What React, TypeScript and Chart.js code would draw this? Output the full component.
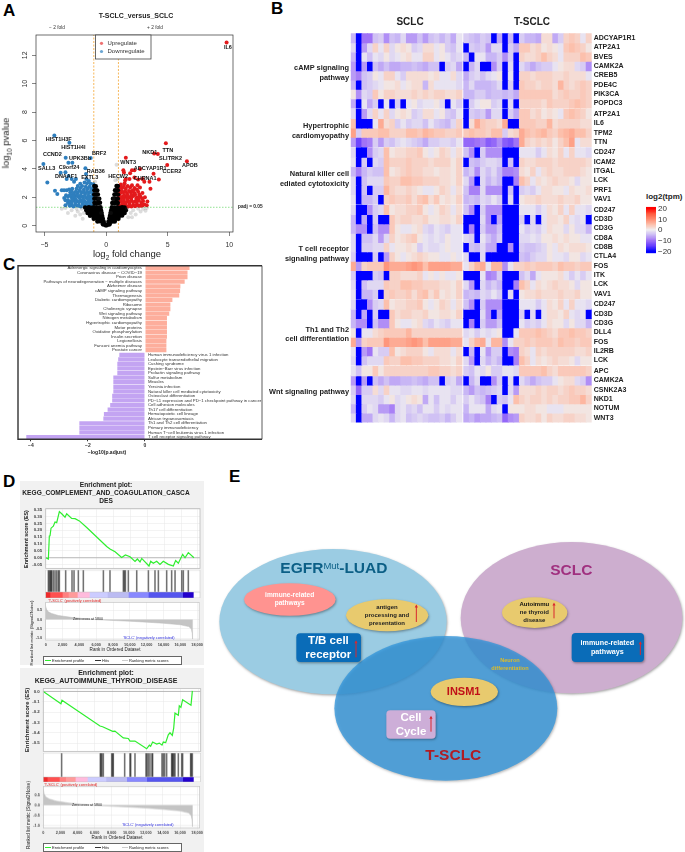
import React, { useEffect, useRef } from 'react';
import { Chart, registerables } from 'chart.js';
Chart.register(...registerables);
Chart.defaults.font.family = "'Liberation Sans', Arial, sans-serif";
Chart.defaults.color = '#333';

/* ---------- Panel A data ---------- */
const volcanoXTicks = [-5, 0, 5, 10];
const volcanoYTicks = [0, 2, 4, 6, 8, 10, 12];
const volcanoGrey = [[-3.6,1.2],[-3.1,0.9],[-2.8,1.1],[-2.5,0.7],[-2.3,1.0],[-2.1,0.8],[-2.0,1.2],[-1.9,0.5],[-1.8,0.9],[-2.4,1.2],[-3.3,1.25],[1.8,0.6],[2.0,0.9],[2.2,1.1],[2.4,0.8],[2.6,1.2],[2.8,1.0],[3.0,1.2],[3.2,1.05],[3.3,1.25],[2.1,0.6],[1.7,1.2],[0.95,3.3],[0.85,4.3],[0.75,3.2],[-0.9,3.1],[-0.6,1.9],[0.6,1.9],[0.4,0.9],[-0.4,0.9]];
const volcanoBlack = [[-0.25,0.1],[-0.15,0.12],[-0.05,0.03],[0.05,0.03],[0.15,0.1],[0.28,0.1],[-0.7,0.3],[-0.5,0.32],[-0.32,0.28],[-0.2,0.3],[-1.0,0.5],[-0.8,0.52],[-0.6,0.48],[-0.42,0.5],[-0.27,0.5],[-1.3,0.7],[-1.1,0.72],[-0.9,0.68],[-0.7,0.7],[-0.5,0.72],[-0.32,0.68],[-1.5,0.9],[-1.3,0.92],[-1.1,0.88],[-0.9,0.9],[-0.7,0.93],[-0.52,0.9],[-0.36,0.9],[-1.6,1.1],[-1.4,1.12],[-1.2,1.08],[-1.0,1.1],[-0.8,1.13],[-0.6,1.08],[-0.42,1.1],[-1.7,1.28],[-1.4,1.3],[-1.2,1.27],[-1.0,1.3],[-0.8,1.3],[-0.62,1.28],[-0.46,1.3],[-0.95,1.6],[-0.8,1.58],[-0.65,1.6],[-0.5,1.62],[-0.95,1.9],[-0.8,1.92],[-0.66,1.88],[-0.56,1.9],[-0.96,2.2],[-0.82,2.2],[-0.67,2.2],[-0.95,2.5],[-0.82,2.5],[-0.72,2.48],[-0.95,2.8],[-0.84,2.78],[0.7,0.3],[0.5,0.3],[0.33,0.27],[0.2,0.3],[1.0,0.5],[0.8,0.5],[0.6,0.48],[0.42,0.5],[0.27,0.52],[1.3,0.72],[1.1,0.7],[0.9,0.68],[0.7,0.72],[0.5,0.7],[0.32,0.7],[1.5,0.9],[1.3,0.9],[1.1,0.92],[0.9,0.88],[0.7,0.9],[0.52,0.92],[0.36,0.9],[1.6,1.1],[1.4,1.08],[1.2,1.12],[1.0,1.1],[0.8,1.08],[0.6,1.12],[0.42,1.1],[1.5,1.28],[1.3,1.3],[1.1,1.27],[0.9,1.3],[0.7,1.28],[0.47,1.3],[0.95,1.6],[0.8,1.62],[0.65,1.58],[0.5,1.6],[0.95,1.9],[0.8,1.88],[0.66,1.92],[0.56,1.9],[0.96,2.2],[0.82,2.22],[0.68,2.2],[0.95,2.5],[0.83,2.48],[0.73,2.5],[0.95,2.8],[0.85,2.8]];
const volcanoDown = [[-1.05,1.4],[-1.3,1.5],[-1.6,1.4],[-1.9,1.55],[-2.2,1.4],[-2.5,1.5],[-2.8,1.45],[-3.1,1.6],[-1.15,1.7],[-1.45,1.75],[-1.75,1.7],[-2.05,1.8],[-2.35,1.75],[-2.65,1.8],[-2.95,1.7],[-3.3,1.8],[-1.05,1.95],[-1.3,2.0],[-1.6,1.95],[-1.9,2.05],[-2.2,2.0],[-2.5,2.1],[-2.8,2.0],[-3.1,2.05],[-3.4,1.95],[-1.1,2.25],[-1.4,2.3],[-1.7,2.25],[-2.0,2.35],[-2.3,2.3],[-2.6,2.3],[-2.9,2.35],[-3.2,2.5],[-1.2,2.55],[-1.5,2.6],[-1.8,2.55],[-2.1,2.65],[-2.4,2.6],[-2.75,2.6],[-3.0,2.55],[-1.03,2.93],[-1.55,3.0],[-1.75,3.05],[-2.1,2.95],[-2.6,3.1],[-3.2,3.29],[-2.79,3.29],[-3.05,3.5],[-4.77,3.05],[-4.15,2.46],[-3.96,2.23],[-3.6,2.5],[-3.41,2.5],[-5.09,4.34],[-4.2,6.36],[-2.98,5.85],[-3.28,4.79],[-3.06,4.44],[-2.74,4.44],[-3.69,3.73],[-3.3,3.76],[-1.68,4.04],[-1.25,4.77],[-1.63,3.64],[-1.6,3.3],[-2.45,3.3],[-1.4,3.15],[-2.2,1.65],[-1.25,1.85],[-2.7,2.2],[-1.55,1.6],[-3.3,1.45],[-2.9,1.55],[-1.2,1.35],[-1.45,1.38],[-1.75,1.45],[-2.05,1.35],[-2.35,1.42],[-2.65,1.35],[-2.95,1.4],[-1.3,1.65],[-1.6,1.62],[-1.9,1.7],[-2.5,1.68],[-2.8,1.62],[-3.1,1.8],[-1.15,2.1],[-1.45,2.12],[-1.75,2.1],[-2.05,2.15],[-2.35,2.15],[-2.65,2.05],[-2.95,2.15],[-3.25,2.15],[-1.25,2.4],[-1.55,2.42],[-1.85,2.38],[-2.15,2.48],[-2.45,2.42],[-2.8,2.45],[-1.05,2.7],[-1.35,2.75],[-1.65,2.75],[-1.95,2.8],[-2.3,2.8],[-1.25,2.95],[-1.85,1.85],[-2.5,1.9],[-2.15,1.95],[-1.45,1.9],[-2.75,1.85]];
const volcanoUp = [[1.05,1.4],[1.3,1.5],[1.6,1.4],[1.9,1.5],[2.2,1.45],[2.5,1.5],[2.8,1.4],[3.1,1.5],[1.15,1.7],[1.45,1.75],[1.75,1.7],[2.05,1.8],[2.35,1.7],[2.65,1.8],[3.0,1.75],[3.35,1.7],[1.05,2.0],[1.3,2.0],[1.6,2.05],[1.9,2.0],[2.2,2.1],[2.5,2.0],[2.8,2.05],[3.15,2.0],[1.15,2.3],[1.4,2.35],[1.7,2.25],[2.0,2.35],[2.3,2.3],[2.6,2.4],[2.95,2.3],[1.05,2.6],[1.3,2.65],[1.6,2.6],[1.95,2.7],[2.3,2.65],[2.75,2.7],[3.6,2.6],[1.5,3.0],[1.6,3.3],[1.45,3.75],[1.4,3.9],[1.95,3.7],[2.1,3.9],[2.3,3.9],[2.75,4.0],[1.55,3.2],[1.9,3.3],[2.3,3.4],[2.6,3.25],[2.95,3.3],[3.1,3.1],[3.52,3.1],[3.85,3.66],[4.28,3.26],[9.78,12.9],[4.85,5.8],[6.56,4.55],[4.96,4.27],[3.9,5.09],[4.2,5.05],[1.6,4.79],[1.2,2.9],[2.1,2.45],[1.45,1.55],[2.45,1.9],[3.3,1.45],[1.8,1.35],[1.15,1.35],[1.45,1.38],[2.05,1.36],[2.35,1.38],[2.65,1.4],[2.95,1.42],[1.3,1.65],[1.6,1.62],[1.9,1.68],[2.2,1.65],[2.5,1.68],[2.85,1.62],[1.2,1.85],[1.45,1.9],[1.75,1.88],[2.05,1.95],[2.65,1.95],[2.95,1.9],[1.1,2.15],[1.45,2.15],[1.75,2.12],[2.05,2.18],[2.35,2.2],[2.7,2.2],[1.25,2.45],[1.55,2.42],[1.85,2.45],[2.2,2.5],[2.5,2.55],[1.15,2.75],[1.45,2.8],[1.75,2.8],[2.1,2.85],[2.55,2.85]];
const volcanoNames = ['IL6','HIST1H3F','HIST1H4I','CCND2','UPK3Bb','BRF2','SALL3','C9orf24','RAB36','DNAAF1','EXTL3','HECW2','NKD1','TTN','SLITRK2','APOB','WNT3','ADCYAP1R1','CCER2','CHRNA1'];
const volcanoNameX = [9.89,-3.85,-2.66,-4.36,-2.11,-0.57,-4.82,-3.01,-0.84,-3.25,-1.33,0.98,3.55,5.01,5.23,6.8,1.79,3.58,5.34,3.17];
const volcanoNameY = [12.58,6.06,5.49,5.0,4.77,5.07,4.04,4.13,3.85,3.47,3.38,3.5,5.14,5.31,4.72,4.23,4.46,4.06,3.83,3.36];

/* ---------- Panel B data ---------- */
const ADCYAP1R1 = [-5,-20,-10,-10,-4,-3,-8,-4,-5,-2,-7,-7,-4,-7,-4,-3,-5,-3,-6,-1, -3,-4,-5,-3,-4,-20,-6,-20,-5,-20,-3,-5,-5,-6,2,2,-6,-3,3,4,3,-1,3];
const ATP2A1 = [-2,-20,-7,-2,3,-1,3,-2,1,2,1,-3,-2,2,2,-1,1,-3,-4,-1, -20,-3,-4,-3,-7,-2,-2,-20,-3,-6,4,4,2,3,1,2,1,-1,4,5,4,3,1];
const BVES = [-5,-20,-1,-4,-1,-2,1,-2,-1,1,2,-1,-1,3,3,-1,1,-1,-3,-2, -5,-20,-1,-1,-5,-5,-3,-8,-3,-20,3,2,2,3,5,3,2,-1,3,3,3,5,4];
const CAMK2A = [-7,-20,-7,-20,-4,-6,-4,-6,-6,-5,-5,-4,-5,-6,-4,-4,-20,-3,-2,-6, -20,-5,-2,-20,-20,-8,-3,-20,-2,-20,-2,-4,-6,-4,-3,-3,-1,1,2,2,-2,-3,-8];
const CREB5 = [-7,-9,-4,-3,1,-1,3,3,-1,-3,2,2,2,2,1,2,-1,-1,2,-2, -6,-3,-2,-4,-2,-1,1,-20,-1,-20,3,3,2,3,3,3,2,2,3,2,2,2,-1];
const PDE4C = [-5,-20,-4,-3,-2,-1,1,1,2,-1,1,2,2,-5,2,-1,-1,-1,-1,-2, -5,-2,-5,-5,-5,-4,-2,-20,-3,-20,4,3,3,2,3,3,2,6,3,2,3,4,3];
const PIK3CA = [1,-8,-2,-3,4,1,3,3,2,2,2,3,2,3,2,3,3,2,2,3, -5,-5,-3,-3,-5,-4,-4,-5,-4,-6,4,4,4,4,4,4,2,3,4,3,3,4,3];
const POPDC3 = [-6,-20,-1,-6,-3,-20,-1,-20,-3,-20,-1,1,-2,-1,-1,1,-2,-20,-1,-3, -20,-3,-1,1,1,-3,-2,-20,-2,-20,3,3,3,3,2,4,3,3,3,4,5,4,3];
const IL6 = [5,-20,-20,-20,-1,7,2,3,-3,-1,-3,-2,-2,-4,-1,-3,-4,-5,-2,3, -20,2,7,4,3,3,2,7,-20,-20,4,4,4,3,3,6,2,3,3,3,3,2,2];
const TPM2 = [8,-3,4,4,4,5,5,3,3,3,5,5,4,6,5,4,4,3,3,4, 4,5,4,4,3,5,5,-3,2,3,7,5,4,5,6,4,3,5,6,7,5,5,3];
const TTN = [-7,-14,-10,-9,-3,-7,-3,-4,-2,-1,-2,-3,-4,-6,-3,-3,-2,-2,-3,-1, -11,-11,-10,-9,-12,-11,-8,-12,-13,-10,7,3,2,3,2,3,1,3,5,8,-1,2,2];
const CD247 = [-2,-20,-20,-8,-3,-2,5,1,2,2,3,3,4,1,-1,1,3,2,-1,2, -4,-8,-20,-3,-8,-8,-8,-20,-20,-20,-1,-1,-1,-3,-1,2,1,3,-1,3,-1,-1,-2];
const ICAM2 = [-1,-20,-3,-20,-2,-3,5,3,3,3,4,3,3,3,2,3,3,3,1,3, -20,-4,-5,-3,-2,-2,-3,-20,-4,-20,3,2,2,3,3,3,2,3,3,3,3,3,2];
const ITGAL = [-5,-9,-5,-3,-4,-4,5,1,2,3,4,3,3,2,2,1,2,2,1,3, -5,-3,-8,-2,-4,-2,-5,-9,-9,-8,2,1,3,-1,2,3,2,2,3,3,3,2,1];
const LCK = [-2,-20,-4,-2,-2,-2,4,3,3,5,5,4,4,3,3,3,2,2,1,3, -2,-7,-20,-2,-5,-3,-5,-20,-20,-9,5,3,-1,2,1,2,3,2,2,1,-2,1,1];
const PRF1 = [-2,-20,-4,-20,-3,-3,6,3,2,2,3,2,1,-1,-1,1,3,2,-1,2, -4,-9,-9,-2,-8,-8,-8,-20,-4,-20,-3,-2,-3,-1,2,2,1,1,-1,2,1,1,2];
const VAV1 = [-1,-20,-5,-5,-3,-20,3,4,3,3,4,2,4,5,2,4,1,2,1,3, -5,-4,-5,-2,-3,-1,-3,-20,-2,-20,1,2,2,3,2,2,2,3,2,2,3,1,1];
const CD3D = [-5,-20,-6,-20,-3,-20,-20,4,2,3,3,2,2,3,1,1,2,2,1,3, -20,-20,-20,-2,-8,-20,-6,-20,-20,-20,-3,-20,-2,-20,-1,2,2,1,3,-1,-2,-1,-20];
const CD3G = [-5,-8,-8,-20,-4,-8,-8,4,1,-1,-1,1,2,-2,-3,-1,-2,-3,-1,-1, -20,-9,-20,-3,-7,-7,-4,-20,-20,-20,-1,-3,-2,-3,-1,2,1,1,-2,1,-2,-2,-5];
const CD8A = [-2,-20,-4,-4,-2,-7,-2,3,1,2,3,4,1,-1,-2,-1,-2,1,-1,-1, -2,-3,-20,-1,-4,-6,-3,-20,-20,-20,-2,-2,-1,-2,1,1,2,1,2,1,1,-1,-1];
const CD8B = [-2,-20,-3,-3,-2,-2,3,-1,1,1,2,1,-3,-1,-2,-2,-1,1,-1,-1, -20,-4,-5,-2,-6,-6,-20,-20,-8,-20,-3,-4,-4,-3,-2,1,-1,2,1,2,2,2,1];
const CTLA4 = [-3,-20,-20,-20,-3,-20,-7,3,1,-1,1,2,3,2,1,1,-1,-1,1,-1, -2,-20,-20,-2,-20,-20,-20,-20,-20,-20,-4,-5,-3,-2,-2,1,-1,-1,-2,1,1,-2,-1];
const FOS = [7,-7,3,4,4,4,9,7,7,7,8,9,8,5,8,8,8,8,7,7, -1,3,6,7,-1,6,6,-8,-1,3,3,4,3,4,4,4,3,5,4,4,3,4,4];
const ITK = [-3,-20,-20,-20,-3,-4,-20,3,3,2,2,2,3,-1,1,-1,1,-1,-1,1, -20,-20,-20,-1,-9,-8,-3,-20,-20,-20,-4,-2,-6,-1,1,1,1,2,-1,-3,-1,-3,-1];
const DLL4 = [1,-20,-1,-1,2,3,4,4,4,4,6,3,3,3,3,3,3,3,3,3, -2,-1,-3,-1,-2,-1,1,-20,-20,-1,4,4,4,5,4,3,2,4,4,5,4,4,3];
const IL2RB = [-1,-20,-7,-10,-1,-3,-3,5,1,2,3,3,3,1,-1,2,2,2,-1,2, -20,-5,-20,-1,-7,-3,-3,-20,-8,-9,3,2,-1,3,2,3,3,3,3,3,2,2,3];
const APC = [-1,-4,1,1,4,1,3,3,3,3,3,3,3,3,4,4,3,3,2,3, -3,-4,-1,-2,1,-3,-3,-1,-1,-2,4,4,4,4,5,3,2,4,4,4,4,4,3];
const CSNK2A3 = [-3,-11,-3,-3,2,-2,3,-1,-1,-2,-2,-1,-1,-2,-1,-1,-1,-1,-2,-2, -5,-7,-4,-5,-4,-3,-2,-20,-2,-7,2,2,2,3,2,3,3,2,3,4,3,3,2];
const NKD1 = [-2,-20,-2,-2,-2,-3,-1,1,-2,-1,1,2,1,-6,-1,-4,-1,-1,-3,-1, -3,-1,-3,-4,-9,-20,-3,-4,-1,5,3,2,3,3,2,3,2,3,3,4,4,6,3];
const NOTUM = [-5,-20,-3,-1,-2,-7,-7,-9,-2,-1,-3,-2,-4,-1,-1,-3,-1,-2,-1,-1, -5,-1,-1,-1,-6,-2,-1,-20,1,1,1,2,2,1,1,-1,-1,-1,1,1,1,1,1];
const WNT3 = [-2,-20,-6,-6,-2,-1,-2,-5,-2,-1,-4,-3,-2,-3,-4,-4,-3,-5,-3,-1, -6,-5,-7,-6,-6,-5,-4,-11,-8,-7,3,2,2,3,1,3,2,2,3,3,2,2,1];
const heatGroups: [string, number[]][][] = [
  [['ADCYAP1R1',ADCYAP1R1],['ATP2A1',ATP2A1],['BVES',BVES],['CAMK2A',CAMK2A],['CREB5',CREB5],['PDE4C',PDE4C],['PIK3CA',PIK3CA],['POPDC3',POPDC3]],
  [['ATP2A1',ATP2A1],['IL6',IL6],['TPM2',TPM2],['TTN',TTN]],
  [['CD247',CD247],['ICAM2',ICAM2],['ITGAL',ITGAL],['LCK',LCK],['PRF1',PRF1],['VAV1',VAV1]],
  [['CD247',CD247],['CD3D',CD3D],['CD3G',CD3G],['CD8A',CD8A],['CD8B',CD8B],['CTLA4',CTLA4],['FOS',FOS],['ITK',ITK],['LCK',LCK],['VAV1',VAV1]],
  [['CD247',CD247],['CD3D',CD3D],['CD3G',CD3G],['DLL4',DLL4],['FOS',FOS],['IL2RB',IL2RB],['LCK',LCK]],
  [['APC',APC],['CAMK2A',CAMK2A],['CSNK2A3',CSNK2A3],['NKD1',NKD1],['NOTUM',NOTUM],['WNT3',WNT3]],
];
const heatStops = [-20,-15,-10,-5,0,5,10,15,20];
const heatColors = [[0,0,255],[100,60,255],[160,115,246],[200,182,245],[240,238,240],[252,192,172],[255,140,112],[255,90,62],[255,0,0]];
const legendSteps = [-21,-20,-19,-18,-17,-16,-15,-14,-13,-12,-11,-10,-9,-8,-7,-6,-5,-4,-3,-2,-1,0,1,2,3,4,5,6,7,8,9,10,11,12,13,14,15,16,17,18,19,20,21];
const legendTicks = [20,10,0,-10,-20];

/* ---------- Panel C data ---------- */
const keggNames = ['Adrenergic signaling in cardiomyocytes','Coronavirus disease − COVID−19','Prion disease','Pathways of neurodegeneration − multiple diseases','Alzheimer disease','cAMP signaling pathway','Thermogenesis','Diabetic cardiomyopathy','Ribosome','Cholinergic synapse','Wnt signaling pathway','Nitrogen metabolism','Hypertrophic cardiomyopathy','Motor proteins','Oxidative phosphorylation','Insulin secretion','Legionellosis','Fanconi anemia pathway','Prostate cancer','Human immunodeficiency virus 1 infection','Leukocyte transendothelial migration','Cushing syndrome','Epstein−Barr virus infection','Prolactin signaling pathway','Sulfur metabolism','Measles','Yersinia infection','Natural killer cell mediated cytotoxicity','Osteoclast differentiation','PD−L1 expression and PD−1 checkpoint pathway in cancer','Cell adhesion molecules','Th17 cell differentiation','Hematopoietic cell lineage','African trypanosomiasis','Th1 and Th2 cell differentiation','Primary immunodeficiency','Human T−cell leukemia virus 1 infection','T cell receptor signaling pathway'];
const keggValues = [1.56,1.49,1.49,1.39,1.24,1.23,1.2,0.96,0.89,0.89,0.85,0.77,0.77,0.77,0.77,0.77,0.75,0.75,0.75,-0.9,-0.94,-0.97,-0.97,-0.97,-1.11,-1.11,-1.11,-1.11,-1.15,-1.15,-1.22,-1.31,-1.44,-1.46,-2.3,-2.3,-2.3,-4.16];
const keggTicks = [-4,-2,0];

/* ---------- Panel D data ---------- */
const compES = [[0,0],[315,-0.01],[430,0.158],[510,0.16],[630,0.215],[900,0.23],[1100,0.26],[1300,0.255],[1615,0.336],[1890,0.32],[2285,0.295],[2480,0.32],[3070,0.286],[3470,0.284],[3980,0.268],[4850,0.22],[6030,0.151],[7210,0.082],[7600,0.064],[8200,0.043],[8980,0.002],[9420,0.02],[9970,0.007],[10560,-0.027],[10835,-0.009],[11150,-0.03],[11350,-0.005],[12210,-0.06],[12410,-0.025],[12720,-0.04],[13120,-0.025],[13510,-0.048],[13900,-0.025],[14500,-0.048],[15090,-0.06],[15360,-0.02],[15680,-0.04],[16190,0.025],[16470,0.0],[16860,0.037],[17530,0]];
const compHits = [315,430,550,630,710,900,1100,1300,1500,1615,2360,3110,3350,3860,4450,6820,7600,9180,9300,9420,9770,10760,12140,12920,13320,14300,14890,15290,16080,16270,16860];
const compMetric = [[0,0.72],[100,0.55],[300,0.42],[700,0.33],[1500,0.22],[3000,0.12],[4500,0.05],[5800,0],[8000,-0.05],[10000,-0.09],[12000,-0.14],[14000,-0.2],[16000,-0.28],[17000,-0.38],[17300,-0.5],[17420,-0.75],[17450,-1.05],[17460,0]];
const thyES = [[0,0],[2050,-0.12],[2170,-0.085],[6590,-0.335],[6900,-0.342],[8060,-0.387],[8330,-0.384],[9300,-0.45],[9880,-0.455],[10080,-0.48],[10660,-0.48],[12020,-0.555],[12330,-0.52],[12480,-0.53],[12710,-0.49],[13180,-0.51],[13490,-0.5],[13800,-0.52],[13950,-0.49],[14230,-0.495],[14530,-0.42],[14730,-0.4],[15000,-0.425],[15160,-0.355],[15310,-0.21],[15700,-0.23],[15810,-0.14],[16000,-0.155],[16200,-0.08],[17170,-0.134],[17250,-0.065],[17330,0.005]];
const thyHits = [2130,6630,6710,6820,6980,7950,8060,8140,9460,10080,10160,10660,11940,12050,12210,12400,12640,12710,13800,13950,14110,14340,14920,15000,15080,15190,15310,15700,16090,16200,17130,17210,17330];
const thyMetric = [[0,0.78],[100,0.55],[300,0.4],[700,0.3],[1500,0.2],[3000,0.1],[4500,0.04],[5800,0],[8000,-0.05],[10000,-0.09],[12000,-0.14],[14000,-0.2],[16000,-0.28],[17000,-0.38],[17300,-0.5],[17420,-0.75],[17450,-1.05],[17460,0]];
const compSegments = [510,1460,710,1060,1420,2130,2480,2360,4060,1260];
const thySegments = [460,1400,740,1120,1400,2170,2400,2330,4190,1240];
const segColors = ['#ee2b2b','#ff5050','#ff8080','#ff9a9a','#ffbbdd','#ccccff','#bbbbf2','#8888ff','#5555ee','#2200cc'];
const rankTicks = [0,2000,4000,6000,8000,10000,12000,14000,16000,18000];
const compESTicks = [0.35,0.3,0.25,0.2,0.15,0.1,0.05,0,-0.05];
const thyESTicks = [0,-0.1,-0.2,-0.3,-0.4,-0.5];
const metricTicks = [0.5,0,-0.5,-1];

/* ---------- Panel E data ---------- */
const vennCenters = [[369,485],[1085,473],[707,745]];
const vennNames = ['EGFRMut-LUAD','SCLC','T-SCLC'];

/* ---------- helpers ---------- */
const lerpHeat = (v: number) => {
  const c = Math.max(-20, Math.min(20, v));
  let i = 0;
  while (i < heatStops.length - 2 && c > heatStops[i + 1]) i++;
  const t = (c - heatStops[i]) / (heatStops[i + 1] - heatStops[i]);
  const a = heatColors[i], b = heatColors[i + 1];
  return `rgb(${a.map((q, k) => Math.round(q + (b[k] - q) * t)).join(',')})`;
};
const pts = (a: number[][]) => a.map(([x, y]) => ({ x, y }));
const base = (padding: any) => ({
  responsive: false, animation: false as const, events: [] as any[],
  layout: { autoPadding: false, padding },
  plugins: { legend: { display: false }, tooltip: { enabled: false }, title: { display: false } },
});
const setTicks = (vals: number[]) => (s: any) => { s.ticks = vals.map(value => ({ value })); };
const fitW = (n: number) => (s: any) => { s.width = n; };
const fitH = (n: number) => (s: any) => { s.height = n; };
const whitePlot = { id: 'whitePlot', beforeDraw(c: any) { const a = c.chartArea; c.ctx.save(); c.ctx.fillStyle = '#fff'; c.ctx.fillRect(a.left, a.top, a.right - a.left, a.bottom - a.top); c.ctx.restore(); } };
const frame = (color: string, lw: number) => ({ id: 'frame', afterDraw(c: any) { const a = c.chartArea; const x = c.ctx; x.save(); x.strokeStyle = color; x.lineWidth = lw; x.strokeRect(a.left, a.top, a.right - a.left, a.bottom - a.top); x.restore(); } });

function Plot({ x, y, w, h, make }: any) {
  const ref = useRef<HTMLCanvasElement>(null);
  useEffect(() => {
    const c = new Chart(ref.current as any, make());
    return () => c.destroy();
  }, []);
  return <canvas ref={ref} width={w} height={h} style={{ position: 'absolute', left: x, top: y, width: w, height: h }} />;
}
function T({ x, y, s = 7, b = false, c = '#222', a = 'center', r = 0, children }: any) {
  const tx = a === 'left' ? '0' : a === 'right' ? '-100%' : '-50%';
  return <div style={{ position: 'absolute', left: x, top: y, fontSize: s, fontWeight: b ? 700 : 400, color: c, lineHeight: 1, whiteSpace: 'nowrap', fontFamily: "'Liberation Sans', Arial, sans-serif", transform: r ? `translate(-50%,-50%) rotate(${r}deg)` : `translate(${tx},-50%)` }}>{children}</div>;
}

/* ---------- Panel A ---------- */
const volcanoConfig = () => ({
  type: 'scatter',
  data: { datasets: [
    { data: pts(volcanoGrey), backgroundColor: 'rgba(60,60,60,0.18)', pointRadius: 2, borderWidth: 0 },
    { data: pts(volcanoBlack), backgroundColor: '#000', pointRadius: 2.3, borderWidth: 0 },
    { data: pts(volcanoDown), backgroundColor: '#2f7fbe', pointRadius: 2, borderWidth: 0 },
    { data: pts(volcanoUp), backgroundColor: '#e31a1c', pointRadius: 2, borderWidth: 0 },
    { data: [{ x: -1, y: -0.44 }, { x: -1, y: 13.43 }], showLine: true, borderColor: '#f6b04a', borderDash: [2, 1.5], borderWidth: 0.9, pointRadius: 0 },
    { data: [{ x: 1, y: -0.44 }, { x: 1, y: 13.43 }], showLine: true, borderColor: '#f6b04a', borderDash: [2, 1.5], borderWidth: 0.9, pointRadius: 0 },
    { data: [{ x: -5.69, y: 1.3 }, { x: 10.3, y: 1.3 }], showLine: true, borderColor: '#86e086', borderDash: [1.5, 1.5], borderWidth: 0.9, pointRadius: 0 },
  ] },
  options: {
    ...base({ left: 0, top: 35, right: 29, bottom: 0 }),
    scales: {
      x: { type: 'linear', min: -5.69, max: 10.3, afterBuildTicks: setTicks(volcanoXTicks), afterFit: fitH(18),
        ticks: { font: { size: 7 }, maxRotation: 0, autoSkip: false, padding: 5, callback: (v: number) => String(v).replace('-', '−') },
        grid: { drawOnChartArea: false, tickLength: 4, color: '#333', lineWidth: 0.6 }, border: { display: false } },
      y: { type: 'linear', min: -0.44, max: 13.43, afterBuildTicks: setTicks(volcanoYTicks), afterFit: fitW(36),
        ticks: { display: false, autoSkip: false }, grid: { drawOnChartArea: false, tickLength: 4, color: '#333', lineWidth: 0.6 }, border: { display: false } },
    },
  },
  plugins: [frame('#333', 0.7), {
    id: 'volcanoText',
    afterDraw(c: any) {
      const x = c.ctx, sx = c.scales.x, sy = c.scales.y;
      x.save();
      x.fillStyle = '#333'; x.font = "7px 'Liberation Sans'"; x.textAlign = 'center'; x.textBaseline = 'middle';
      volcanoYTicks.forEach(v => { x.save(); x.translate(25, sy.getPixelForValue(v)); x.rotate(-Math.PI / 2); x.fillText(String(v), 0, 0); x.restore(); });
      x.fillStyle = '#111'; x.font = "bold 5.5px 'Liberation Sans'";
      volcanoNames.forEach((n, i) => x.fillText(n, sx.getPixelForValue(volcanoNameX[i]), sy.getPixelForValue(volcanoNameY[i])));
      // legend
      x.fillStyle = '#fff'; x.strokeStyle = '#444'; x.lineWidth = 0.8; x.fillRect(95.5, 35, 55.5, 24); x.strokeRect(95.5, 35, 55.5, 24);
      x.textAlign = 'left'; x.font = "6px 'Liberation Sans'";
      x.fillStyle = '#ee7070'; x.beginPath(); x.arc(101.5, 43.3, 1.6, 0, 7); x.fill();
      x.fillStyle = '#6aa5d2'; x.beginPath(); x.arc(101.5, 51.5, 1.6, 0, 7); x.fill();
      x.fillStyle = '#333'; x.fillText('Upregulate', 107.5, 43.5); x.fillText('Downregulate', 107.5, 51.7);
      x.restore();
    },
  }],
});

/* ---------- Panel B ---------- */
const heatConfig = () => {
  const rowPos: number[] = [], rowNames: string[] = [], rowValues: number[][] = [];
  let p = 0;
  heatGroups.forEach(g => { g.forEach(([n, v]) => { rowPos.push(p); rowNames.push(n); rowValues.push(v); p += 1; }); p += 0.14; });
  const colPos = rowValues[0].map((_, i) => (i < 20 ? i : i + 0.3));
  return {
    type: 'bar',
    data: { datasets: rowValues.map((v, r) => ({
      data: v.map((_, i) => ({ x: colPos[i], y: [rowPos[r] - 0.52, rowPos[r] + 0.52] })),
      backgroundColor: v.map(lerpHeat), borderWidth: 0, barThickness: 5.7, grouped: false,
    })) },
    options: {
      ...base({ left: 0.7, top: 33.3, right: 0, bottom: 7.6 }),
      scales: {
        x: { type: 'linear', offset: false, min: -0.5, max: 42.8, display: false, grid: { display: false } },
        y: { type: 'linear', position: 'right', reverse: true, min: -0.5, max: rowPos[rowPos.length - 1] + 0.5,
          afterBuildTicks: setTicks(rowPos), afterFit: fitW(48.3),
          ticks: { autoSkip: false, padding: 2, color: '#222', font: { size: 7, weight: 'bold' }, callback: (_: any, i: number) => rowNames[i] },
          grid: { display: false, drawTicks: false }, border: { display: false } },
      },
    },
  };
};
const heatLegendConfig = () => ({
  type: 'bar',
  data: { labels: ['log2(tpm)'], datasets: legendSteps.map(v => ({ data: [[v - 0.55, v + 0.55]], backgroundColor: lerpHeat(v), borderWidth: 0, barPercentage: 1, categoryPercentage: 1, grouped: false })) },
  options: {
    ...base({ left: 6, top: 4.7, right: 0, bottom: 3.3 }),
    scales: {
      x: { display: false },
      y: { type: 'linear', position: 'right', min: -21.4, max: 21.9, afterBuildTicks: setTicks(legendTicks), afterFit: fitW(29),
        ticks: { autoSkip: false, padding: 2, color: '#333', font: { size: 8 }, callback: (v: number) => String(v).replace('-', '−') },
        grid: { display: false, drawTicks: false }, border: { display: false } },
    },
  },
});

/* ---------- Panel C ---------- */
const keggConfig = () => ({
  type: 'bar',
  data: { labels: keggNames, datasets: [{ data: keggValues, backgroundColor: keggValues.map(v => (v > 0 ? '#fdae9c' : '#c3a4f2')), borderWidth: 0, barPercentage: 0.93, categoryPercentage: 1 }] },
  options: {
    ...base({ left: 18, top: 7.7, right: 3, bottom: 0 }),
    indexAxis: 'y',
    scales: {
      x: { type: 'linear', min: -4.45, max: 4.1, afterBuildTicks: setTicks(keggTicks), afterFit: fitH(18.7),
        ticks: { autoSkip: false, padding: 1, font: { size: 5, weight: 'bold' }, color: '#333', maxRotation: 0, callback: (v: number) => String(v).replace('-', '−') },
        grid: { drawOnChartArea: false, tickLength: 2, color: '#333' }, border: { display: false } },
      y: { display: false },
    },
  },
  plugins: [{
    id: 'keggLabels',
    afterDraw(c: any) {
      const x = c.ctx, a = c.chartArea, z = c.scales.x.getPixelForValue(0), meta = c.getDatasetMeta(0);
      x.save(); x.font = "4.3px 'Liberation Sans'"; x.fillStyle = '#333'; x.textBaseline = 'middle';
      keggNames.forEach((n, i) => { x.textAlign = keggValues[i] > 0 ? 'right' : 'left'; x.fillText(n, keggValues[i] > 0 ? z - 3 : z + 3, meta.data[i].y); });
      x.strokeStyle = '#333'; x.lineWidth = 1.4;
      x.beginPath(); x.moveTo(a.right, a.top); x.lineTo(a.left, a.top); x.lineTo(a.left, a.bottom); x.lineTo(a.right, a.bottom); x.stroke();
      x.lineWidth = 0.8; x.beginPath(); x.moveTo(a.right, a.top); x.lineTo(a.right, a.bottom); x.stroke();
      x.restore();
    },
  }],
});

/* ---------- Panel D ---------- */
function Gsea({ g, es, hits, seg, metric, esTicks, esDigits }: any) {
  const common = { x: 20, w: 184 };
  const xScale = (extra: any = {}) => ({ type: 'linear', min: 0, max: g.xMax, ...extra });
  const rightPad = 204 - g.right;
  const smallTick = { font: { size: 3.8, weight: 'bold' }, color: '#444', autoSkip: false };
  return <>
    <Plot {...common} y={g.esTop - 3} h={g.esBot - g.esTop + 6} make={() => ({
      type: 'scatter',
      data: { datasets: [
        { data: es.map(([x, y]: number[]) => ({ x, y })), showLine: true, borderColor: '#2fee2f', borderWidth: 1.2, pointRadius: 0 },
        { data: [{ x: 0, y: 0 }, { x: g.xMax, y: 0 }], showLine: true, borderColor: '#aaa', borderWidth: 0.8, pointRadius: 0 },
      ] },
      options: { ...base({ left: 0, top: 3, right: rightPad, bottom: 3 }),
        scales: {
          x: xScale({ display: true, afterBuildTicks: setTicks(rankTicks), afterFit: fitH(0), ticks: { display: false, autoSkip: false }, grid: { color: '#e6e6e6', lineWidth: 0.5, drawTicks: false }, border: { display: false } }),
          y: { type: 'linear', min: g.esMin, max: g.esMax, afterBuildTicks: setTicks(esTicks), afterFit: fitW(g.left - 20),
            ticks: { ...smallTick, font: { size: 4.4, weight: 'bold' }, padding: 2, callback: (v: number) => v.toFixed(esDigits) }, grid: { color: '#e6e6e6', lineWidth: 0.5, tickLength: 1.5 }, border: { display: false } },
        } },
      plugins: [whitePlot, frame('#bbb', 0.8)],
    })} />
    <Plot {...common} y={g.esBot} h={g.hitsBot - g.esBot} make={() => ({
      type: 'bar',
      data: { datasets: [{ data: hits.map((x: number) => ({ x, y: [0, 1] })), backgroundColor: 'rgba(20,20,20,0.6)', borderWidth: 0, barThickness: 0.9, grouped: false }] },
      options: { ...base({ left: g.left - 20, top: 0, right: rightPad, bottom: 0 }),
        scales: { x: xScale({ offset: false, display: false }), y: { type: 'linear', min: 0, max: 1, display: false } } },
      plugins: [whitePlot, frame('#ccc', 0.6)],
    })} />
    <Plot {...common} y={g.hitsBot} h={g.barBot - g.hitsBot} make={() => ({
      type: 'bar',
      data: { labels: ['rank'], datasets: seg.map((v: number, i: number) => ({ data: [v], backgroundColor: segColors[i], borderWidth: 0, barPercentage: 1, categoryPercentage: 1 })) },
      options: { ...base({ left: g.left - 20, top: 0, right: rightPad, bottom: 0 }), indexAxis: 'y',
        scales: { x: xScale({ stacked: true, display: false }), y: { stacked: true, display: false } } },
      plugins: [whitePlot, frame('#bbb', 0.5)],
    })} />
    <Plot {...common} y={g.barBot} h={g.rankBot - g.barBot + 10} make={() => ({
      type: 'scatter',
      data: { datasets: [{ data: metric.map(([x, y]: number[]) => ({ x, y })), showLine: true, fill: 'origin', backgroundColor: '#c4c4c4', borderColor: '#bdbdbd', borderWidth: 0.5, pointRadius: 0 }] },
      options: { ...base({ left: 0, top: 0, right: rightPad, bottom: 0 }),
        scales: {
          x: xScale({ afterBuildTicks: setTicks(rankTicks), afterFit: fitH(10), ticks: { ...smallTick, maxRotation: 0, padding: 1, callback: (v: number) => v.toLocaleString('en-US') }, grid: { color: '#e6e6e6', lineWidth: 0.5, tickLength: 1.5 }, border: { display: false } }),
          y: { type: 'linear', min: g.rankMin, max: g.rankMax, afterBuildTicks: setTicks(metricTicks), afterFit: fitW(g.left - 20),
            ticks: { ...smallTick, padding: 2, callback: (v: number) => v.toFixed(1) }, grid: { color: '#e6e6e6', lineWidth: 0.5, tickLength: 1.5 }, border: { display: false } },
        } },
      plugins: [whitePlot, frame('#bbb', 0.6)],
    })} />
  </>;
}
function GseaLegend({ x, y }: any) {
  return <div style={{ position: 'absolute', left: x, top: y, width: 137, height: 7, border: '1px solid #666', background: '#fff' }}>
    <div style={{ position: 'absolute', left: 1, top: 3, width: 6, height: 1, background: '#2fee2f' }} />
    <T x={8} y={3.5} s={4} a="left">Enrichment profile</T>
    <div style={{ position: 'absolute', left: 51, top: 3, width: 6, height: 1, background: '#333' }} />
    <T x={58} y={3.5} s={4} a="left">Hits</T>
    <div style={{ position: 'absolute', left: 78, top: 3, width: 6, height: 1, background: '#ccc' }} />
    <T x={85} y={3.5} s={4} a="left">Ranking metric scores</T>
  </div>;
}

/* ---------- Panel E ---------- */
const vennConfig = () => ({
  type: 'scatter',
  data: { datasets: [{ label: vennNames.join(' / '), data: pts(vennCenters), pointRadius: 0 }] },
  options: { ...base(0), scales: {
    x: { type: 'linear', min: 0, max: 1425, display: false },
    y: { type: 'linear', min: 0, max: 990, reverse: true, display: false },
  } },
  plugins: [{
    id: 'venn',
    afterDraw(c: any) {
      const g = c.ctx, X = (v: number) => c.scales.x.getPixelForValue(v), Y = (v: number) => c.scales.y.getPixelForValue(v);
      const shadow = (on: boolean) => { g.shadowColor = on ? 'rgba(0,0,0,0.35)' : 'transparent'; g.shadowBlur = on ? 2.5 : 0; g.shadowOffsetX = on ? 0.8 : 0; g.shadowOffsetY = on ? 1.2 : 0; };
      const ell = (x0: number, y0: number, x1: number, y1: number, col: string) => { g.fillStyle = col; g.beginPath(); g.ellipse(X((x0 + x1) / 2), Y((y0 + y1) / 2), (X(x1) - X(x0)) / 2, (Y(y1) - Y(y0)) / 2, 0, 0, Math.PI * 2); g.fill(); };
      const box = (x0: number, y0: number, x1: number, y1: number, col: string) => { g.fillStyle = col; g.beginPath(); g.roundRect(X(x0), Y(y0), X(x1) - X(x0), Y(y1) - Y(y0), 4); g.fill(); };
      const txt = (s: string, x: number, y: number, font: string, col: string) => { g.font = font + " 'Liberation Sans'"; g.fillStyle = col; g.fillText(s, X(x), Y(y)); };
      const arrow = (x: number, y0: number, y1: number) => { g.strokeStyle = '#d9282f'; g.fillStyle = '#d9282f'; g.lineWidth = 1; g.beginPath(); g.moveTo(X(x), Y(y0)); g.lineTo(X(x), Y(y1)); g.stroke(); g.beginPath(); g.moveTo(X(x), Y(y1) - 1.5); g.lineTo(X(x) - 1.6, Y(y1) + 1.5); g.lineTo(X(x) + 1.6, Y(y1) + 1.5); g.fill(); };
      g.save(); g.textAlign = 'center'; g.textBaseline = 'middle';
      shadow(true);
      ell(28, 267, 710, 703, '#9bcce3');
      ell(752, 246, 1417, 700, '#cdaecf');
      ell(373, 528, 1042, 962, 'rgba(50,150,220,0.78)');
      ell(102, 370, 377, 467, '#ff9390');
      ell(408, 418, 655, 514, '#e8ca6e');
      ell(876, 412, 1072, 504, '#e8ca6e');
      ell(662, 653, 864, 738, '#e8ca6e');
      box(259, 520, 453, 606, '#0a6cb8');
      box(1085, 519, 1302, 606, '#0a6cb8');
      box(529, 751, 677, 836, '#cdaed8');
      shadow(false);
      txt('immune-related', 239, 406, 'bold 6.6px', '#fff'); txt('pathways', 239, 431, 'bold 6.6px', '#fff');
      txt('antigen', 531, 443, 'bold 6px', '#222'); txt('processing and', 531, 466, 'bold 6px', '#222'); txt('presentation', 531, 490, 'bold 6px', '#222');
      arrow(619, 486, 438);
      txt('Autoimmu', 973, 434, 'bold 6px', '#111'); txt('ne thyroid', 973, 458, 'bold 6px', '#222'); txt('disease', 973, 481, 'bold 6px', '#222');
      arrow(1032, 475, 432);
      txt('T/B cell', 355, 542, 'bold 11.5px', '#fff'); txt('receptor', 355, 585, 'bold 11.5px', '#fff');
      arrow(438, 592, 545);
      txt('immune-related', 1192, 548, 'bold 7.2px', '#fff'); txt('pathways', 1192, 577, 'bold 7.2px', '#fff');
      arrow(1291, 585, 548);
      txt('Cell', 603, 773, 'bold 11.5px', '#fff'); txt('Cycle', 603, 816, 'bold 11.5px', '#fff');
      arrow(663, 815, 772);
      txt('INSM1', 761, 696, 'bold 11px', '#c01018');
      txt('Neuron', 900, 601, 'bold 5.6px', '#dcbc2a'); txt('differentiation', 900, 624, 'bold 5.6px', '#dcbc2a');
      txt('SCLC', 1084, 333, 'bold 15.5px', '#a0307f');
      txt('T-SCLC', 730, 887, 'bold 15.5px', '#b01c24');
      g.textAlign = 'left';
      g.fillStyle = '#0c5f86';
      g.font = "bold 15.5px 'Liberation Sans'"; let px = X(211); g.fillText('EGFR', px, Y(327)); px += g.measureText('EGFR').width;
      g.font = "9.5px 'Liberation Sans'"; g.fillText('Mut', px, Y(318)); px += g.measureText('Mut').width;
      g.font = "bold 15.5px 'Liberation Sans'"; g.fillText('-LUAD', px, Y(327));
      g.restore();
    },
  }],
});

const G1 = { left: 45.7, right: 200, xMax: 18240, esTop: 506.7, esBot: 570, esMin: -0.077, esMax: 0.357, hitsBot: 591.7, barBot: 597.7, rankBot: 640, rankMin: -1.1, rankMax: 0.93 };
const G2 = { left: 43.3, right: 200.7, xMax: 18300, esTop: 686.7, esBot: 753, esMin: -0.58, esMax: 0.027, hitsBot: 776.7, barBot: 782, rankBot: 827.7, rankMin: -1.11, rankMax: 0.92 };

export default function App() {
  useEffect(() => { document.body.style.margin = '0'; document.body.style.background = '#fff'; }, []);
  return (
    <div style={{ position: 'absolute', left: 0, top: 0, width: 685, height: 852, overflow: 'hidden', background: '#fff' }}>
      {/* letters */}
      <T x={3} y={10} s={17} b c="#000" a="left">A</T>
      <T x={271} y={8} s={17} b c="#000" a="left">B</T>
      <T x={3} y={264} s={17} b c="#000" a="left">C</T>
      <T x={3} y={481} s={17} b c="#000" a="left">D</T>
      <T x={229} y={476} s={17} b c="#000" a="left">E</T>

      {/* A */}
      <Plot x={0} y={0} w={262} h={250} make={volcanoConfig} />
      <T x={136} y={15} s={7} b>T-SCLC_versus_SCLC</T>
      <T x={57} y={28} s={4.8} c="#333">− 2 fold</T>
      <T x={155} y={28} s={4.8} c="#333">+ 2 fold</T>
      <T x={238} y={207} s={4.8} b a="left">padj = 0.05</T>
      <T x={7} y={143} s={9.5} r={-90} c="#222">log<sub style={{ fontSize: 6.5 }}>10</sub> pvalue</T>
      <T x={127} y={255} s={9.5} c="#222">log<sub style={{ fontSize: 6.5 }}>2</sub> fold change</T>

      {/* B */}
      <T x={410} y={22} s={10} b>SCLC</T>
      <T x={532} y={22} s={10} b>T-SCLC</T>
      <Plot x={350} y={0} w={290} h={430} make={heatConfig} />
      <T x={349} y={68} s={7.4} b a="right">cAMP signaling</T>
      <T x={349} y={78} s={7.4} b a="right">pathway</T>
      <T x={349} y={126} s={7.4} b a="right">Hypertrophic</T>
      <T x={349} y={135.7} s={7.4} b a="right">cardiomyopathy</T>
      <T x={349} y={174} s={7.4} b a="right">Natural killer cell</T>
      <T x={349} y={183.7} s={7.4} b a="right">ediated cytotoxicity</T>
      <T x={349} y={249.3} s={7.4} b a="right">T cell receptor</T>
      <T x={349} y={259} s={7.4} b a="right">signaling pathway</T>
      <T x={349} y={329.7} s={7.4} b a="right">Th1 and Th2</T>
      <T x={349} y={339} s={7.4} b a="right">cell differentiation</T>
      <T x={349} y={392} s={7.4} b a="right">Wnt signaling pathway</T>
      <T x={646} y={197} s={8} b a="left">log2(tpm)</T>
      <Plot x={640} y={200} w={45} h={60} make={heatLegendConfig} />

      {/* C */}
      <Plot x={0} y={258} w={265} h={200} make={keggConfig} />
      <T x={107} y={452} s={5} b>−log10(p.adjust)</T>

      {/* D */}
      <div style={{ position: 'absolute', left: 20, top: 481, width: 184, height: 184, background: '#f1f1f1' }} />
      <div style={{ position: 'absolute', left: 20, top: 668, width: 184, height: 184, background: '#f1f1f1' }} />
      <T x={106} y={485} s={6.6} b>Enrichment plot:</T>
      <T x={106} y={493} s={6.6} b>KEGG_COMPLEMENT_AND_COAGULATION_CASCA</T>
      <T x={106} y={501} s={6.6} b>DES</T>
      <Gsea g={G1} es={compES} hits={compHits} seg={compSegments} metric={compMetric} esTicks={compESTicks} esDigits={2} />
      <T x={27} y={539} s={5.4} b r={-90}>Enrichment score (ES)</T>
      <T x={32} y={633} s={4.4} r={-90}>Ranked list metric (Signal2Noise)</T>
      <T x={115} y={650} s={4.6}>Rank in Ordered Dataset</T>
      <T x={48} y={600.5} s={3.9} c="#e02020" a="left">'T-SCLC' (positively correlated)</T>
      <T x={123} y={637.5} s={3.9} c="#3030e0" a="left">'SCLC' (negatively correlated)</T>
      <T x={73} y={619.5} s={3.6} a="left">Zero cross at 5800</T>
      <GseaLegend x={43} y={656} />

      <T x={106} y={672} s={7} b>Enrichment plot:</T>
      <T x={106} y={680} s={7} b>KEGG_AUTOIMMUNE_THYROID_DISEASE</T>
      <Gsea g={G2} es={thyES} hits={thyHits} seg={thySegments} metric={thyMetric} esTicks={thyESTicks} esDigits={1} />
      <T x={27} y={720} s={6} b r={-90}>Enrichment score (ES)</T>
      <T x={29} y={815} s={4.6} r={-90}>Ranked list metric (Signal2Noise)</T>
      <T x={117} y={838} s={4.6}>Rank in Ordered Dataset</T>
      <T x={44} y={784.5} s={3.9} c="#e02020" a="left">'T-SCLC' (positively correlated)</T>
      <T x={122} y={824.5} s={3.9} c="#3030e0" a="left">'SCLC' (negatively correlated)</T>
      <T x={72} y={805.5} s={3.6} a="left">Zero cross at 5800</T>
      <GseaLegend x={43} y={843} />

      {/* E */}
      <Plot x={210} y={460} w={475} h={330} make={vennConfig} />
    </div>
  );
}
